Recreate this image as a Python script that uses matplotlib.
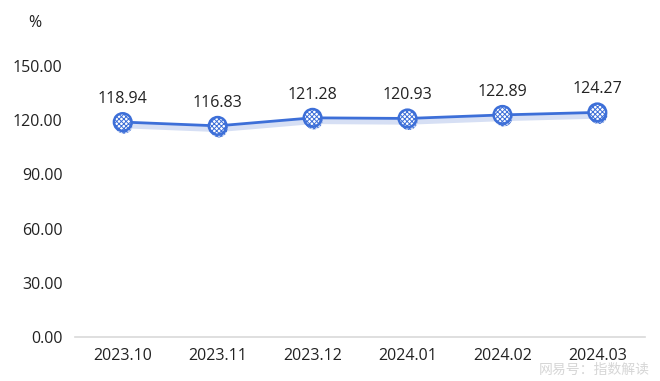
import matplotlib.pyplot as plt
import matplotlib.patheffects as pe

months = ['2023.10', '2023.11', '2023.12', '2024.01', '2024.02', '2024.03']
values = [118.94, 116.83, 121.28, 120.93, 122.89, 124.27]
yticks = [0, 30, 60, 90, 120, 150]

blue = '#3d6fd8'
plt.rcParams['font.family'] = ['Open Sans', 'Noto Sans CJK SC', 'DejaVu Sans']
plt.rcParams['hatch.linewidth'] = 0.7

fig = plt.figure(figsize=(6.6, 3.81), dpi=100)
ax = fig.add_axes([0.114, 0.1155, 0.863, 0.7115])

x = list(range(len(months)))
shadow = [pe.SimpleLineShadow(offset=(0.5, -2.5), shadow_color='#8aa4e0', alpha=0.35, linewidth=4), pe.Normal()]
ax.plot(x, values, color=blue, lw=2, zorder=2, path_effects=shadow)
ax.scatter(x, values, s=160, facecolor='white', edgecolor=blue, linewidth=1.8,
           hatch='xxxxxxx', zorder=3,
           path_effects=[pe.SimplePatchShadow(offset=(0.8, -2), shadow_rgbFace='#8aa4e0', alpha=0.45), pe.Normal()])

for xi, v in zip(x, values):
    ax.annotate(f'{v:.2f}', (xi, v), xytext=(0, 11), textcoords='offset points',
                ha='center', va='bottom', fontsize=11.5, color='#222222')

ax.set_xlim(-0.5, len(months) - 0.5)
ax.set_ylim(0, 150)
ax.set_yticks(yticks)
ax.set_yticklabels([f'{t:.2f}' for t in yticks])
ax.set_xticks(x)
ax.set_xticklabels(months)
ax.tick_params(length=0, labelsize=11.5, colors='#222222')
ax.tick_params(axis='y', pad=9)
ax.tick_params(axis='x', pad=8)
for s in ['top', 'right', 'left']:
    ax.spines[s].set_visible(False)
ax.spines['bottom'].set_color('#d9d9d9')
ax.spines['bottom'].set_linewidth(1.2)

fig.text(0.053, 0.94, '%', fontsize=11.5, color='#222222', ha='center', va='center')
fig.text(0.985, 0.008, '网易号：指数解读', fontsize=10, color='#cccccc', ha='right', va='bottom', alpha=0.8)

fig.savefig('out.png', dpi=100)
